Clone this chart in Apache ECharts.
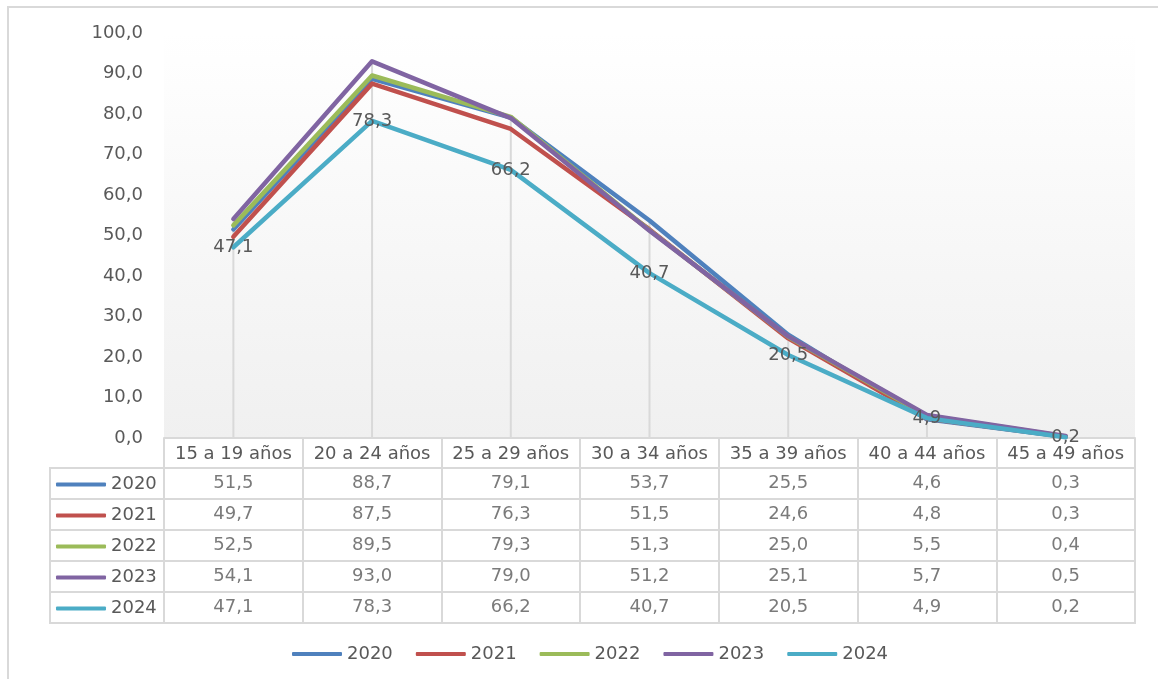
<!DOCTYPE html>
<html>
<head>
<meta charset="utf-8">
<title>Tasa por grupo de edad</title>
<script src="https://cdn.jsdelivr.net/npm/echarts@6/dist/echarts.min.js"></script>
<style>
  html, body { margin: 0; padding: 0; background: #fff; overflow: hidden; }
  #frame { position: absolute; left: 7px; top: 6px; width: 1200px; height: 700px; border: 2px solid #d9d9d9; }
  #main { position: absolute; left: 0; top: 0; width: 1158px; height: 679px; }
</style>
</head>
<body>
<div id="frame"></div>
<div id="main"></div>
<script>
// categorias (grupos de edad)
const categories = ['15 a 19 años', '20 a 24 años', '25 a 29 años', '30 a 34 años', '35 a 39 años', '40 a 44 años', '45 a 49 años'];
const years = ['2020', '2021', '2022', '2023', '2024'];
const v2020 = [51.5, 88.7, 79.1, 53.7, 25.5, 4.6, 0.3];
const v2021 = [49.7, 87.5, 76.3, 51.5, 24.6, 4.8, 0.3];
const v2022 = [52.5, 89.5, 79.3, 51.3, 25.0, 5.5, 0.4];
const v2023 = [54.1, 93.0, 79.0, 51.2, 25.1, 5.7, 0.5];
const v2024 = [47.1, 78.3, 66.2, 40.7, 20.5, 4.9, 0.2];
const colors = ['#4f81bd', '#c0504d', '#9bbb59', '#8064a2', '#4bacc6'];

const allValues = [v2020, v2021, v2022, v2023, v2024];
const fmt = v => v.toFixed(1).replace('.', ',');
const txt = '#595959';
const border = '#d9d9d9';
const font = 'DejaVu Sans';

// lineas de caida: desde el valor maximo de cada categoria
const dropTop = categories.map((c, i) => Math.max(...allValues.map(a => a[i])));

// celdas de la tabla de datos
const tableCells = [];
allValues.forEach((arr, r) => arr.forEach((v, c) => tableCells.push([c, r, v])));

let lineSeries = years.map((y, k) => ({
  name: y,
  type: 'line',
  xAxisIndex: 0,
  yAxisIndex: 0,
  data: allValues[k],
  symbol: 'circle',
  symbolSize: 1,
  showSymbol: k === 4,
  itemStyle: { color: colors[k] },
  z: 3,
  lineStyle: { width: 4.5, color: colors[k], join: 'round', cap: 'round' },
  label: k === 4 ? {
    show: true, position: 'inside', color: txt, fontSize: 18, fontFamily: font,
    formatter: p => fmt(p.value)
  } : { show: false }
}));

let option = {
  animation: false,
  textStyle: { fontFamily: font },
  legend: [
    { // leyenda inferior
      data: years, left: 292, top: 645, padding: 0,
      icon: 'roundRect', itemWidth: 50, itemHeight: 4, itemGap: 23,
      textStyle: { color: txt, fontSize: 18, fontFamily: font }
    },
    { // claves de la tabla
      data: years, orient: 'vertical', left: 56, top: 474, padding: 0,
      icon: 'roundRect', itemWidth: 50, itemHeight: 4, itemGap: 10, selectedMode: false,
      textStyle: { color: txt, fontSize: 18, fontFamily: font, lineHeight: 21 }
    }
  ],
  grid: [
    { // area del grafico
      left: 164, right: 23, top: 33, height: 405,
      show: true, borderWidth: 0,
      backgroundColor: { type: 'linear', x: 0, y: 0, x2: 0, y2: 1,
        colorStops: [{ offset: 0, color: '#ffffff' }, { offset: 1, color: '#f0f0f0' }] }
    },
    { // tabla de datos
      left: 164, right: 23, top: 468, height: 155,
      show: true, borderColor: border, borderWidth: 2, backgroundColor: 'transparent'
    },
    { // columna de claves
      left: 50, width: 114, top: 468, height: 155,
      show: true, borderColor: border, borderWidth: 2, backgroundColor: 'transparent'
    }
  ],
  xAxis: [
    {
      gridIndex: 0, type: 'category', data: categories, boundaryGap: true,
      axisLine: { show: true, lineStyle: { color: border, width: 2 } },
      axisTick: { show: true, alignWithLabel: false, length: 30, lineStyle: { color: border, width: 2 } },
      axisLabel: { interval: 0, margin: 7, color: txt, fontSize: 18, fontFamily: font },
      splitLine: { show: false }
    },
    {
      gridIndex: 1, type: 'category', data: categories, boundaryGap: true,
      axisLine: { show: false }, axisTick: { show: false }, axisLabel: { show: false },
      splitLine: { show: true, interval: 0, lineStyle: { color: border, width: 2 } }
    },
    {
      gridIndex: 2, type: 'category', data: [''],
      axisLine: { show: false }, axisTick: { show: false }, axisLabel: { show: false },
      splitLine: { show: false }
    }
  ],
  yAxis: [
    {
      gridIndex: 0, type: 'value', min: 0, max: 100, interval: 10,
      axisLine: { show: false }, axisTick: { show: false }, splitLine: { show: false },
      axisLabel: { margin: 21, color: txt, fontSize: 18, fontFamily: font, formatter: v => fmt(v) }
    },
    {
      gridIndex: 1, type: 'category', data: years, inverse: true,
      axisLine: { show: false }, axisTick: { show: false }, axisLabel: { show: false },
      splitLine: { show: true, interval: 0, lineStyle: { color: border, width: 2 } }
    },
    {
      gridIndex: 2, type: 'category', data: years, inverse: true,
      axisLine: { show: false }, axisTick: { show: false }, axisLabel: { show: false },
      splitLine: { show: true, interval: 0, lineStyle: { color: border, width: 2 } }
    }
  ],
  series: [
    {
      name: 'drop', type: 'bar', xAxisIndex: 0, yAxisIndex: 0,
      data: dropTop, barWidth: 2, silent: true, z: 1,
      itemStyle: { color: border }
    },
    ...lineSeries,
    {
      name: 'tabla', type: 'scatter', xAxisIndex: 1, yAxisIndex: 1,
      data: tableCells, symbolSize: 1, silent: true,
      itemStyle: { color: 'rgba(0,0,0,0)' },
      label: { show: true, position: 'inside', color: txt, fontSize: 18, fontFamily: font,
        formatter: p => fmt(p.value[2]) }
    }
  ]
};

let chart = echarts.init(document.getElementById('main'));
chart.setOption(option);
window.onresize = chart.resize;
</script>
</body>
</html>
